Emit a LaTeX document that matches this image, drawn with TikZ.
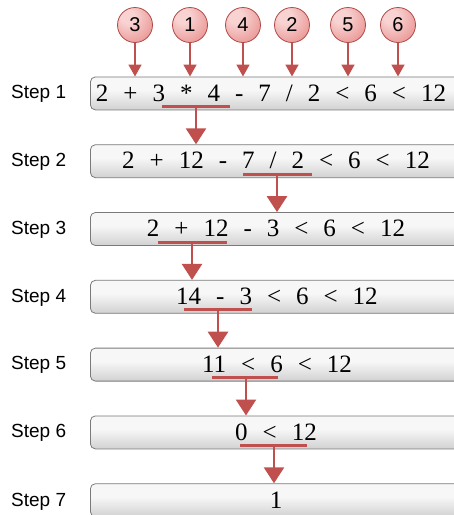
\documentclass[tikz,border=0pt]{standalone}
\usepackage{fontspec}
\setmainfont{Liberation Serif}
\newfontfamily\labfont{Liberation Sans}
\newfontfamily\exprfont[WordSpace={2.4,0,0}]{Liberation Serif}
\usetikzlibrary{arrows.meta}
\definecolor{arrred}{HTML}{C0504D}
\definecolor{circline}{HTML}{B04A47}
\definecolor{cpink}{HTML}{F8D3D2}
\definecolor{cmid}{HTML}{E8908E}
\definecolor{cdark}{HTML}{D45E5B}
\definecolor{boxtop}{HTML}{E4E4E4}
\definecolor{boxhi}{HTML}{F7F7F7}
\definecolor{boxbot}{HTML}{B2B2B2}
\definecolor{boxline}{HTML}{7A7A7A}
\pgfdeclareverticalshading{boxsh}{100bp}{color(0bp)=(boxbot); color(55bp)=(boxhi); color(85bp)=(boxhi); color(100bp)=(boxtop)}
\pgfdeclareradialshading{circsh}{\pgfpoint{-12bp}{14bp}}{color(0bp)=(cpink); color(10bp)=(cpink); color(40bp)=(cmid); color(62bp)=(cdark); color(80bp)=(cdark)}
\begin{document}
\begin{tikzpicture}[x=1pt,y=-1pt,
  stepbox/.style={draw=boxline, line width=0.8pt, rounded corners=5pt, shade, shading=boxsh, minimum width=372pt, minimum height=33pt, inner sep=0pt, anchor=north west},
  expr/.style={font=\exprfont\fontsize{25}{30}\selectfont, inner sep=0pt},
  steplab/.style={font=\labfont\fontsize{19}{22}\selectfont, anchor=west, inner sep=0pt},
  numcirc/.style={circle, draw=circline, line width=0.8pt, shade, shading=circsh, minimum size=35pt, inner sep=0pt, font=\labfont\fontsize{20}{24}\selectfont},
  thinarr/.style={draw=arrred, line width=1.8pt, -{Triangle[width=13pt,length=12pt]}},
  thickarr/.style={draw=arrred, line width=2.6pt, -{Triangle[width=20pt,length=16pt]}},
  uline/.style={draw=arrred, line width=3pt}
]
\clip (0,0) rectangle (454,515);
% boxes
\node[stepbox] (b1) at (90,76.5) {};
\node[stepbox] (b2) at (90,144.3) {};
\node[stepbox] (b3) at (90,212.1) {};
\node[stepbox] (b4) at (90,279.9) {};
\node[stepbox] (b5) at (90,347.7) {};
\node[stepbox] (b6) at (90,415.5) {};
\node[stepbox] (b7) at (90,483.3) {};
% step labels
\node[steplab] (l1) at (11,94) {Step 1};
\node[steplab] (l2) at (11,161.8) {Step 2};
\node[steplab] (l3) at (11,229.6) {Step 3};
\node[steplab] (l4) at (11,297.4) {Step 4};
\node[steplab] (l5) at (11,365.2) {Step 5};
\node[steplab] (l6) at (11,433) {Step 6};
\node[steplab] (l7) at (11,502) {Step 7};
% expressions
\node[expr] (t1) at (271,93) {2 + 3 * 4 - 7 / 2 < 6 < 12};
\node[expr] (t2) at (276,160.8) {2 + 12 - 7 / 2 < 6 < 12};
\node[expr] (t3) at (276,228.6) {2 + 12 - 3 < 6 < 12};
\node[expr] (t4) at (277,296.4) {14 - 3 < 6 < 12};
\node[expr] (t5) at (277,364.2) {11 < 6 < 12};
\node[expr] (t6) at (276,432) {0 < 12};
\node[expr] (t7) at (276,499.8) {1};
% numbered circles
\node[numcirc] (c3) at (135,25) {3};
\node[numcirc] (c1) at (190,25) {1};
\node[numcirc] (c4) at (243,25) {4};
\node[numcirc] (c2) at (292,25) {2};
\node[numcirc] (c5) at (348,25) {5};
\node[numcirc] (c6) at (398,25) {6};
% arrow targets on box 1
\foreach \n/\x in {3/135,1/190,4/243,2/292,5/348,6/398}{
  \coordinate (a\n) at (\x,76.5);
  \draw[thinarr] (c\n.south) -- (a\n);
}
% underlines and step arrows
\coordinate (u1a) at (162,106.5); \coordinate (u1b) at (230,106.5);
\coordinate (u1m) at (196,106.5); \coordinate (d2) at (196,144.3);
\coordinate (u2a) at (243,174.3); \coordinate (u2b) at (312,174.3);
\coordinate (u2m) at (277,174.3); \coordinate (d3) at (277,212.1);
\coordinate (u3a) at (158,242.1); \coordinate (u3b) at (227,242.1);
\coordinate (u3m) at (192,242.1); \coordinate (d4) at (192,279.9);
\coordinate (u4a) at (184,309.9); \coordinate (u4b) at (252,309.9);
\coordinate (u4m) at (218,309.9); \coordinate (d5) at (218,347.7);
\coordinate (u5a) at (212,377.7); \coordinate (u5b) at (278,377.7);
\coordinate (u5m) at (246,377.7); \coordinate (d6) at (246,415.5);
\coordinate (u6a) at (240,445.5); \coordinate (u6b) at (307,445.5);
\coordinate (u6m) at (274,445.5); \coordinate (d7) at (274,483.3);
\foreach \i in {1,...,6}{
  \draw[uline] (u\i a) -- (u\i b);
}
\draw[thickarr] (u1m) -- (d2);
\draw[thickarr] (u2m) -- (d3);
\draw[thickarr] (u3m) -- (d4);
\draw[thickarr] (u4m) -- (d5);
\draw[thickarr] (u5m) -- (d6);
\draw[thickarr] (u6m) -- (d7);
\end{tikzpicture}
\end{document}
